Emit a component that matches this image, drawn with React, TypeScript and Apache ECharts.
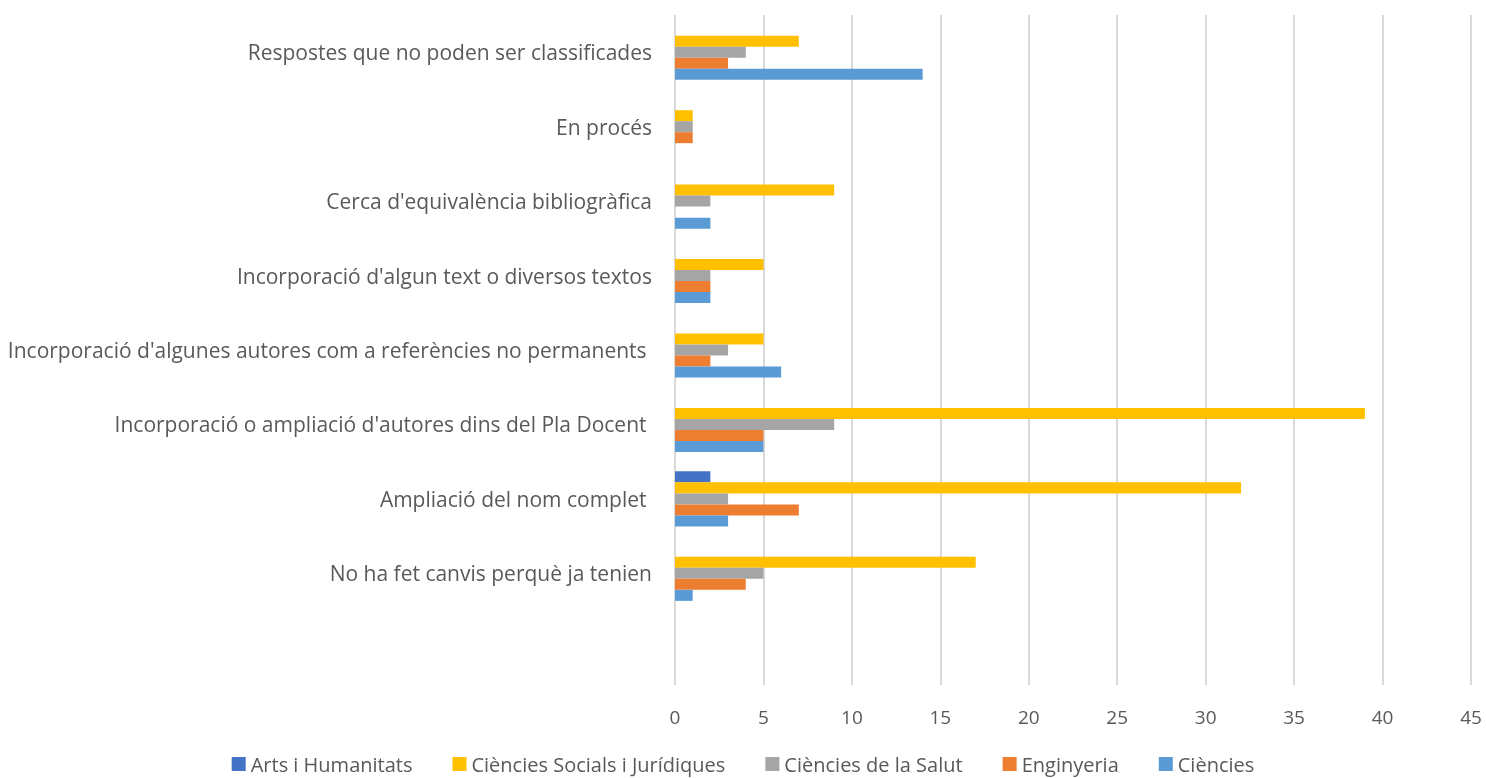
import React, { useEffect, useRef } from "react";
import * as echarts from "echarts";

const categories = [
  "",
  "No ha fet canvis perquè ja tenien",
  "Ampliació del nom complet ",
  "Incorporació o ampliació d'autores dins del Pla Docent ",
  "Incorporació d'algunes autores com a referències no permanents ",
  "Incorporació d'algun text o diversos textos",
  "Cerca d'equivalència bibliogràfica",
  "En procés",
  "Respostes que no poden ser classificades",
];

const ciencies = [0, 1, 3, 5, 6, 2, 2, 0, 14];
const enginyeria = [0, 4, 7, 5, 2, 2, 0, 1, 3];
const salut = [0, 5, 3, 9, 3, 2, 2, 1, 4];
const socials = [0, 17, 32, 39, 5, 5, 9, 1, 7];
const arts = [0, 0, 2, 0, 0, 0, 0, 0, 0];

const xTicks = { min: 0, max: 45, interval: 5 };

const FONT = "'Open Sans', sans-serif";
const TXT = "#595959";

export default function App() {
  const ref = useRef<HTMLDivElement>(null);
  useEffect(() => {
    if (!ref.current) return;
    const chart = echarts.init(ref.current, null, { renderer: "svg" });
    const mk = (name: string, data: number[], color: string) => ({
      name,
      type: "bar",
      data,
      barGap: "0%",
      barCategoryGap: "26%",
      itemStyle: { color },
    });
    chart.setOption({
      animation: false,
      textStyle: { fontFamily: FONT },
      grid: { left: 675, right: 15, top: 15, bottom: 93, containLabel: false },
      xAxis: {
        type: "value",
        min: xTicks.min,
        max: xTicks.max,
        interval: xTicks.interval,
        axisLine: { show: false },
        axisTick: { show: false },
        axisLabel: { color: TXT, fontSize: 19, fontFamily: FONT, margin: 22 },
        splitLine: { show: true, lineStyle: { color: "#D9D9D9", width: 2 } },
      },
      yAxis: {
        type: "category",
        data: categories,
        axisLine: { show: false },
        axisTick: { show: false },
        axisLabel: { color: TXT, fontSize: 21, fontFamily: FONT, margin: 23, padding: [4, 0, 0, 0] },
        splitLine: { show: false },
      },
      legend: {
        top: 754,
        padding: 0,
        left: "center",
        icon: "rect",
        itemWidth: 14,
        itemHeight: 14,
        itemGap: 40,
        textStyle: { color: TXT, fontSize: 20, fontFamily: FONT },
        data: [
          "Arts i Humanitats",
          "Ciències Socials i Jurídiques",
          "Ciències de la Salut",
          "Enginyeria",
          "Ciències",
        ],
      },
      series: [
        mk("Arts i Humanitats", arts, "#4472C4"),
        mk("Ciències Socials i Jurídiques", socials, "#FFC000"),
        mk("Ciències de la Salut", salut, "#A5A5A5"),
        mk("Enginyeria", enginyeria, "#ED7D31"),
        mk("Ciències", ciencies, "#5B9BD5"),
      ],
    });
    return () => chart.dispose();
  }, []);
  return (
    <div
      ref={ref}
      style={{ position: "fixed", left: 0, top: 0, width: 1486, height: 778 }}
    />
  );
}
